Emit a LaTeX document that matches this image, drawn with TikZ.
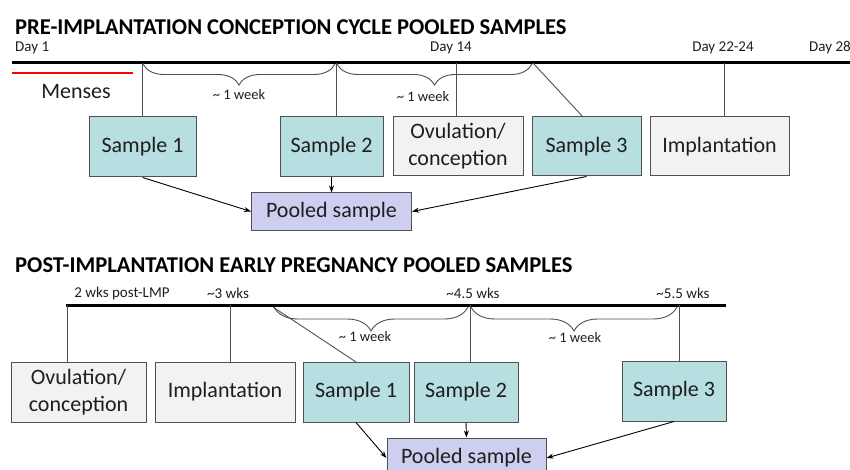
\documentclass[tikz,border=0pt]{standalone}
\usepackage{fontspec}
\setmainfont{Carlito}
\usetikzlibrary{decorations.pathreplacing,arrows.meta}
\definecolor{teal1}{RGB}{183,222,224}
\definecolor{gray1}{RGB}{242,242,242}
\definecolor{lav1}{RGB}{206,206,240}
\definecolor{edge1}{RGB}{80,80,80}
\definecolor{txt1}{RGB}{30,30,30}
\begin{document}
\begin{tikzpicture}[x=1pt,y=-1pt,
  box/.style={draw=edge1, line width=1pt, font=\fontsize{22}{27}\selectfont, text=txt1, inner sep=0pt, align=center},
  sample/.style={box, fill=teal1},
  event/.style={box, fill=gray1},
  pooled/.style={box, fill=lav1},
  titletext/.style={font=\fontsize{22.6}{24}\selectfont\bfseries, anchor=west, inner sep=0pt},
  lbl/.style={font=\fontsize{15}{17}\selectfont, text=txt1, inner sep=0pt},
  wk/.style={font=\fontsize{14.5}{16}\selectfont, text=txt1, inner sep=0pt},
  timeline/.style={line width=3pt, black},
  tick/.style={line width=0.9pt, edge1},
  arr/.style={line width=0.9pt, black, -{Stealth[length=7pt,width=5pt]}},
  brc/.style={line width=0.9pt, edge1, decorate, decoration={brace, mirror, amplitude=#1}},
]
\useasboundingbox (0,0) rectangle (850,470);
\clip (0,0) rectangle (850,470);

% ===== TOP =====
\node[titletext] (title1) at (15,27) {PRE-IMPLANTATION CONCEPTION CYCLE POOLED SAMPLES};
\node[lbl, anchor=west] (d1) at (15,48) {Day 1};
\node[lbl] (d14) at (451,48) {Day 14};
\node[lbl] (d22) at (723,48) {Day 22-24};
\node[lbl, anchor=west] (d28) at (809,48) {Day 28};

\draw[timeline] (12,62.5) -- (852,62.5);
\draw[red, line width=2pt] (12,73) -- (133,73);
\node[font=\fontsize{22}{24}\selectfont, text=txt1, inner sep=0pt] (menses) at (76,92) {Menses};

\node[sample, minimum width=107pt, minimum height=60pt] (s1) at (142.5,147) {Sample 1};
\node[sample, minimum width=103pt, minimum height=60pt] (s2) at (331.5,147) {Sample 2};
\node[event, minimum width=130pt, minimum height=59pt] (ov1) at (458,146.5) {Ovulation/\\conception};
\node[sample, minimum width=109pt, minimum height=59pt] (s3) at (586.5,146.5) {Sample 3};
\node[event, minimum width=139pt, minimum height=59pt] (im1) at (719.5,146.5) {Implantation};
\node[pooled, minimum width=160pt, minimum height=37pt] (p1) at (331.5,211.5) {Pooled sample};

\coordinate (ta) at (142,63);
\coordinate (tb) at (336,63);
\coordinate (tc) at (456,63);
\coordinate (td) at (533,63);
\coordinate (te) at (724,63);
\coordinate (s3t) at (583,117);
\draw[tick] (ta) -- (ta |- s1.north);
\draw[tick] (tb) -- (tb |- s2.north);
\draw[tick] (tc) -- (tc |- ov1.north);
\draw[tick] (td) -- (s3t);
\draw[tick] (te) -- (te |- im1.north);

\draw[brc=21pt] (143,64) -- (335,64);
\draw[brc=21pt] (337,64) -- (532,64);
\node[wk] (w1) at (239,95) {\textasciitilde{} 1 week};
\node[wk] (w2) at (423,97) {\textasciitilde{} 1 week};

\draw[arr] (s1.south) -- (p1.west);
\draw[arr] (s2.south) -- (p1.north);
\draw[arr] (s3.south) -- (p1.east);

% ===== BOTTOM =====
\node[titletext] (title2) at (15,265) {POST-IMPLANTATION EARLY PREGNANCY POOLED SAMPLES};
\node[lbl] (l1) at (122,293) {2 wks post-LMP};
\node[lbl] (l2) at (228,293) {\textasciitilde 3 wks};
\node[lbl] (l3) at (473,293) {\textasciitilde 4.5 wks};
\node[lbl] (l4) at (683,293) {\textasciitilde 5.5 wks};

\draw[timeline] (66,305) -- (726,305);

\node[event, minimum width=135pt, minimum height=60pt] (ov2) at (78.5,392) {Ovulation/\\conception};
\node[event, minimum width=140pt, minimum height=60pt] (im2) at (225,392) {Implantation};
\node[sample, minimum width=106pt, minimum height=60pt] (b1) at (356,392) {Sample 1};
\node[sample, minimum width=104pt, minimum height=60pt] (b2) at (466,392) {Sample 2};
\node[sample, minimum width=104pt, minimum height=60pt] (b3) at (674,391) {Sample 3};
\node[pooled, minimum width=159pt, minimum height=40pt] (p2) at (466.5,458) {Pooled sample};

\coordinate (ua) at (67,305);
\coordinate (ub) at (230,305);
\coordinate (uc) at (273,307);
\coordinate (ud) at (470,305);
\coordinate (ue) at (679,305);
\coordinate (b1t) at (356,362);
\draw[tick] (ua) -- (ua |- ov2.north);
\draw[tick] (ub) -- (ub |- im2.north);
\draw[tick] (uc) -- (b1t);
\draw[tick] (ud) -- (ud |- b2.north);
\draw[tick] (ue) -- (ue |- b3.north);

\draw[brc=24pt] (274,307) -- (468,307);
\draw[brc=24pt] (471,307) -- (677,307);
\node[wk] (w3) at (365,337) {\textasciitilde{} 1 week};
\node[wk] (w4) at (575,338) {\textasciitilde{} 1 week};

\draw[arr] (b1.south) -- (p2.west);
\draw[arr] (b2.south) -- (p2.north);
\draw[arr] (b3.south) -- (p2.east);
\end{tikzpicture}
\end{document}
